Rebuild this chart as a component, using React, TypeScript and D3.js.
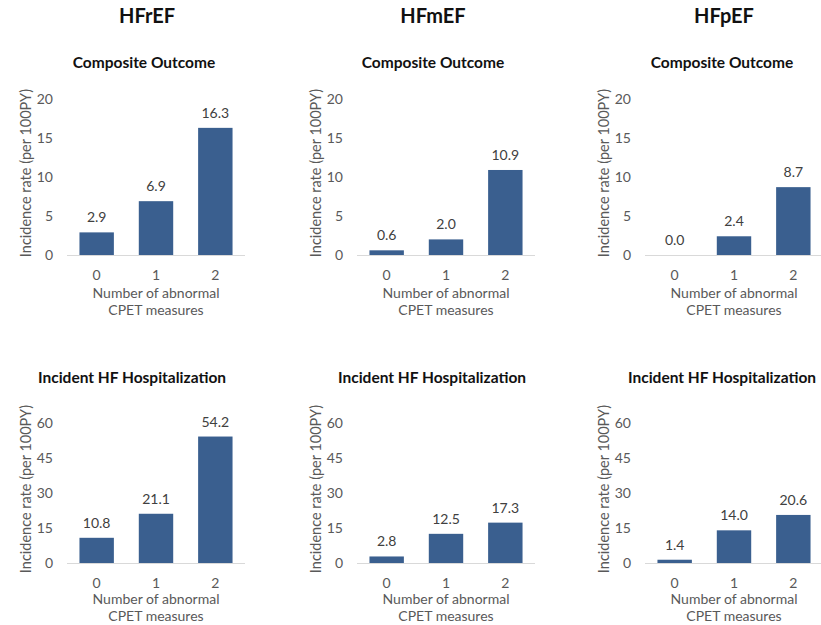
import * as d3 from "d3";
import React, { RefObject, useEffect, useRef } from "react";

const groups = ["HFrEF", "HFmEF", "HFpEF"];
const categories = ["0", "1", "2"];
const compositeValues = [
  [2.9, 6.9, 16.3],
  [0.6, 2.0, 10.9],
  [0.0, 2.4, 8.7],
];
const hospValues = [
  [10.8, 21.1, 54.2],
  [2.8, 12.5, 17.3],
  [1.4, 14.0, 20.6],
];
const compositeTicks = [0, 5, 10, 15, 20];
const hospTicks = [0, 15, 30, 45, 60];
const rowTitles = ["Composite Outcome", "Incident HF Hospitalization"];
const yLabel = "Incidence rate (per 100PY)";
const xLabelLines = ["Number of abnormal", "CPET measures"];

const width = 821;
const height = 625;
const font = "Lato, 'Open Sans', sans-serif";
const barColor = "#3a5f8f";

const App = () => {
  const d3Ref: RefObject<HTMLDivElement> = useRef(null);

  useEffect(() => {
    document.body.style.margin = "0";
    document.body.style.overflow = "hidden";
    const root = d3.select(d3Ref.current);
    root.selectAll("*").remove();
    const svg = root
      .append("svg")
      .attr("width", width)
      .attr("height", height)
      .style("display", "block")
      .style("font-family", font);

    const plotLeft = [67, 357, 645];
    const plotWidth = 178;
    const headerX = [147, 433, 724];
    const titleX = [
      [144, 433, 722],
      [132, 432, 722],
    ];
    const rows = [
      { values: compositeValues, ticks: compositeTicks, top: 99, base: 255, titleY: 63, xlab: 293 },
      { values: hospValues, ticks: hospTicks, top: 423, base: 563, titleY: 378, xlab: 599 },
    ];

    groups.forEach((g, i) => {
      svg
        .append("text")
        .attr("x", headerX[i])
        .attr("y", 23)
        .attr("text-anchor", "middle")
        .style("font-size", "20px")
        .style("font-weight", "bold")
        .attr("fill", "#111")
        .text(g);
    });

    rows.forEach((row, r) => {
      groups.forEach((_, c) => {
        const left = plotLeft[c];
        const x = d3
          .scaleBand()
          .domain(categories)
          .range([left, left + plotWidth])
          .paddingInner(0.42)
          .paddingOuter(0.21);
        const y = d3
          .scaleLinear()
          .domain([0, d3.max(row.ticks) as number])
          .range([row.base, row.top]);

        const g = svg.append("g");

        g.append("text")
          .attr("x", titleX[r][c])
          .attr("y", row.titleY)
          .attr("dy", "0.35em")
          .attr("text-anchor", "middle")
          .style("font-size", "15.5px")
          .style("font-weight", "bold")
          .attr("fill", "#111")
          .text(rowTitles[r]);

        // y tick labels
        g.selectAll("text.ytick")
          .data(row.ticks)
          .enter()
          .append("text")
          .attr("class", "ytick")
          .attr("x", left - 14)
          .attr("y", (d) => y(d))
          .attr("dy", "0.35em")
          .attr("text-anchor", "end")
          .style("font-size", "14px")
          .attr("fill", "#595959")
          .text((d) => d);

        // y axis title
        g.append("text")
          .attr(
            "transform",
            `translate(${left - 41}, ${(row.base + row.top) / 2 - 4}) rotate(-90)`
          )
          .attr("text-anchor", "middle")
          .attr("dy", "0.35em")
          .style("font-size", "14.5px")
          .attr("fill", "#595959")
          .text(yLabel);

        // bars
        g.selectAll("rect.bar")
          .data(row.values[c])
          .enter()
          .append("rect")
          .attr("class", "bar")
          .attr("x", (_, i) => x(categories[i]) as number)
          .attr("y", (d) => y(d))
          .attr("width", x.bandwidth())
          .attr("height", (d) => row.base - y(d))
          .attr("fill", barColor);

        // baseline
        g.append("line")
          .attr("x1", left)
          .attr("x2", left + plotWidth)
          .attr("y1", row.base + 0.5)
          .attr("y2", row.base + 0.5)
          .attr("stroke", "#d9d9d9")
          .attr("stroke-width", 1);

        // value labels
        g.selectAll("text.val")
          .data(row.values[c])
          .enter()
          .append("text")
          .attr("class", "val")
          .attr("x", (_, i) => (x(categories[i]) as number) + x.bandwidth() / 2)
          .attr("y", (d) => y(d) - 10)
          .attr("text-anchor", "middle")
          .style("font-size", "14px")
          .attr("fill", "#404040")
          .text((d) => d.toFixed(1));

        // x tick labels
        g.selectAll("text.xtick")
          .data(categories)
          .enter()
          .append("text")
          .attr("class", "xtick")
          .attr("x", (d) => (x(d) as number) + x.bandwidth() / 2)
          .attr("y", row.base + 20)
          .attr("dy", "0.35em")
          .attr("text-anchor", "middle")
          .style("font-size", "14px")
          .attr("fill", "#595959")
          .text((d) => d);

        // x axis title
        xLabelLines.forEach((line, k) => {
          g.append("text")
            .attr("x", left + plotWidth / 2)
            .attr("y", row.xlab + k * 17)
            .attr("dy", "0.35em")
            .attr("text-anchor", "middle")
            .style("font-size", "14px")
            .attr("fill", "#595959")
            .text(line);
        });
      });
    });
  }, [d3Ref]);

  return <div ref={d3Ref} />;
};

export default App;
